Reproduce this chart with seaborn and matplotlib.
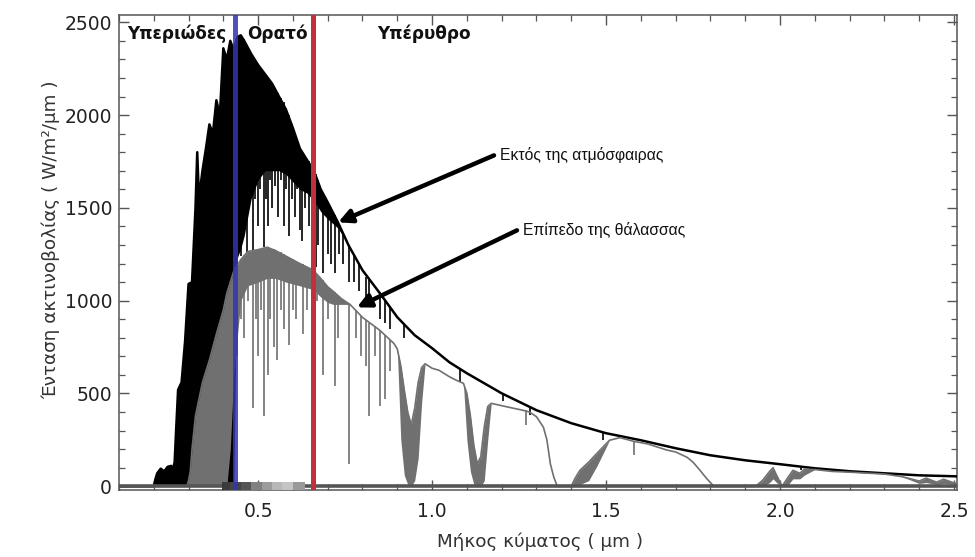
import matplotlib
matplotlib.use("Agg")
import matplotlib.pyplot as plt
from matplotlib.ticker import MultipleLocator
import seaborn as sns

# Solar spectral irradiance outside the atmosphere (black band):
# wavelength (um), upper envelope and lower envelope (W/m^2/um)
toa_wl = [0.10, 0.20, 0.205, 0.21, 0.22, 0.23, 0.24, 0.25, 0.255, 0.26, 0.265, 0.27,
          0.28, 0.29, 0.30, 0.31, 0.32, 0.325, 0.33, 0.34, 0.35, 0.36, 0.37, 0.38,
          0.39, 0.40, 0.41, 0.42, 0.43, 0.44, 0.45, 0.46, 0.48, 0.50, 0.52, 0.54,
          0.56, 0.58, 0.60, 0.62, 0.64, 0.66, 0.68, 0.70, 0.73, 0.76, 0.80, 0.85,
          0.90, 0.95, 1.00, 1.05, 1.10, 1.15, 1.20, 1.30, 1.40, 1.50, 1.60, 1.70,
          1.80, 1.90, 2.00, 2.10, 2.20, 2.30, 2.40, 2.50, 2.51]
toa_upper = [0, 0, 40, 70, 95, 80, 105, 110, 90, 130, 330, 520,
             560, 780, 1090, 1100, 1500, 1800, 1550, 1700, 1820, 1950, 1900, 2080,
             2000, 2360, 2300, 2400, 2350, 2420, 2430, 2400, 2330, 2270, 2220, 2170,
             2100, 2030, 1930, 1820, 1760, 1700, 1600, 1530, 1420, 1298, 1164, 1040,
             911, 814, 744, 668, 609, 555, 501, 410, 340, 286, 248, 205,
             167, 140, 119, 97, 81, 70, 59, 54, 53]
toa_lower = [0, 0, 0, 0, 0, 0, 0, 0, 0, 0, 0, 0,
             0, 0, 0, 0, 0, 0, 0, 0, 0, 0, 0, 0,
             0, 0, 0, 0, 0, 1230, 1280, 1350, 1550, 1650, 1700, 1700,
             1700, 1680, 1640, 1600, 1580, 1540, 1480, 1440, 1390, 1298, 1164, 1040,
             911, 814, 744, 668, 609, 555, 501, 410, 340, 286, 248, 205,
             167, 140, 119, 97, 81, 70, 59, 54, 53]

# Absorption lines in the extraterrestrial spectrum: wavelength, bottom, top
toa_line_wl = [0.452, 0.458, 0.468, 0.475, 0.486, 0.492, 0.500, 0.506, 0.517, 0.523,
               0.527, 0.534, 0.540, 0.548, 0.557, 0.565, 0.573, 0.581, 0.589, 0.596,
               0.605, 0.613, 0.620, 0.627, 0.636, 0.645, 0.656, 0.665, 0.672, 0.687,
               0.700, 0.710, 0.720, 0.733, 0.745, 0.760, 0.775, 0.790, 0.810, 0.820,
               0.850, 0.866, 0.880, 0.920, 1.080, 1.205, 1.280, 1.490, 2.060]
toa_line_floor = [1240, 1400, 1260, 1500, 1270, 1550, 1400, 1600, 1290, 1550,
                  1400, 1650, 1500, 1620, 1450, 1650, 1400, 1600, 1350, 1550,
                  1450, 1600, 1380, 1320, 1500, 1400, 1200, 1180, 1300, 1150,
                  1250, 1200, 1150, 1250, 1200, 1100, 1100, 1050, 1000, 980,
                  900, 880, 850, 800, 560, 460, 385, 250, 88]
toa_line_top = [2430, 2410, 2370, 2345, 2320, 2300, 2270, 2255, 2230, 2215,
                2200, 2185, 2160, 2140, 2120, 2090, 2070, 2040, 2000, 1950,
                1900, 1860, 1820, 1800, 1770, 1750, 1720, 1680, 1650, 1580,
                1530, 1490, 1460, 1410, 1360, 1300, 1240, 1190, 1130, 1110,
                1040, 1000, 970, 870, 630, 500, 420, 290, 108]

# Solar spectral irradiance at sea level (grey band)
sea_wl = [0.10, 0.295, 0.30, 0.305, 0.31, 0.32, 0.33, 0.34, 0.36, 0.38,
          0.40, 0.41, 0.42, 0.43, 0.45, 0.47, 0.50, 0.526, 0.55, 0.58,
          0.62, 0.658, 0.68, 0.70, 0.716, 0.74, 0.764, 0.80, 0.85, 0.89,
          0.90, 0.91, 0.92, 0.93, 0.94, 0.95, 0.96, 0.97, 0.98, 1.00,
          1.02, 1.05, 1.07, 1.09, 1.10, 1.11, 1.12, 1.13, 1.14, 1.15,
          1.16, 1.17, 1.22, 1.26, 1.28, 1.30, 1.32, 1.33, 1.34, 1.35,
          1.36, 1.40, 1.41, 1.425, 1.45, 1.474, 1.51, 1.54, 1.58, 1.62,
          1.675, 1.70, 1.733, 1.75, 1.77, 1.79, 1.81, 1.93, 1.95, 1.97,
          1.98, 1.99, 2.006, 2.02, 2.037, 2.057, 2.07, 2.10, 2.15, 2.20,
          2.30, 2.35, 2.38, 2.40, 2.42, 2.45, 2.47, 2.50, 2.51]
sea_upper = [0, 0, 30, 80, 200, 380, 470, 560, 680, 820,
             950, 1040, 1100, 1160, 1220, 1265, 1275, 1288, 1270, 1240,
             1200, 1165, 1120, 1075, 1050, 1010, 980, 910, 840, 770,
             740, 650, 520, 400, 330, 420, 560, 640, 660, 636,
             625, 590, 571, 555, 500, 380, 220, 120, 160, 320,
             430, 447, 426, 410, 400, 375, 318, 250, 120, 48,
             0, 0, 40, 86, 130, 178, 248, 262, 242, 228,
             195, 185, 156, 130, 86, 40, 0, 0, 32, 80,
             100, 60, 0, 40, 86, 70, 92, 90, 80, 76,
             66, 52, 38, 28, 44, 22, 38, 18, 15]
sea_lower = [0, 0, 0, 0, 0, 0, 0, 0, 0, 0,
             0, 0, 200, 600, 1000, 1080, 1100, 1120, 1120, 1100,
             1080, 1060, 1020, 990, 980, 980, 980, 910, 840, 770,
             740, 250, 60, 10, 0, 30, 150, 450, 660, 636,
             625, 590, 571, 555, 250, 80, 10, 0, 0, 30,
             250, 447, 426, 410, 400, 375, 318, 250, 120, 48,
             0, 0, 0, 10, 30, 110, 248, 262, 242, 228,
             195, 185, 156, 130, 86, 40, 0, 0, 0, 20,
             40, 20, 0, 0, 40, 40, 60, 90, 80, 76,
             66, 52, 30, 15, 20, 10, 15, 10, 10]

# Atmospheric absorption lines at sea level: wavelength, bottom, top
sea_line_wl = [0.440, 0.452, 0.460, 0.470, 0.486, 0.495, 0.500, 0.508, 0.518, 0.527,
               0.535, 0.545, 0.555, 0.565, 0.575, 0.589, 0.600, 0.610, 0.628, 0.640,
               0.656, 0.670, 0.687, 0.700, 0.720, 0.730, 0.762, 0.780, 0.795, 0.810,
               0.820, 0.835, 0.850, 0.866, 0.880, 1.270, 1.580]
sea_line_floor = [700, 900, 800, 1000, 420, 900, 700, 950, 380, 600,
                  900, 750, 680, 950, 850, 760, 950, 900, 820, 950,
                  900, 1000, 600, 900, 540, 800, 120, 800, 700, 650,
                  380, 700, 430, 470, 620, 330, 170]
sea_line_top = [1200, 1225, 1245, 1265, 1268, 1272, 1275, 1280, 1283, 1288,
                1282, 1276, 1270, 1260, 1250, 1235, 1225, 1215, 1195, 1180,
                1165, 1140, 1110, 1075, 1045, 1025, 980, 950, 920, 895,
                880, 865, 840, 815, 790, 410, 242]

# Greyscale rendering of the visible band along the wavelength axis
vis_edges = [0.397, 0.420, 0.450, 0.480, 0.510, 0.540, 0.570, 0.600, 0.635]
vis_greys = ["#3a3a3a", "#444444", "#555555", "#808080", "#9c9c9c", "#b8b8b8", "#c4c4c4", "#9a9a9a"]

# Band boundaries and labels
uv_limit = 0.434
ir_limit = 0.658
band_labels = ["Υπεριώδες", "Ορατό", "Υπέρυθρο"]
band_label_x = [0.125, 0.467, 0.842]

x_ticks = [0.5, 1.0, 1.5, 2.0, 2.5]
y_ticks = [0, 500, 1000, 1500, 2000, 2500]

sns.set_theme(style="ticks")
plt.rcParams["font.family"] = ["DejaVu Sans"]
plt.rcParams.update({
    "xtick.direction": "in", "ytick.direction": "in",
    "xtick.top": True, "ytick.right": True,
    "axes.edgecolor": "#555555", "axes.linewidth": 1.1,
    "xtick.color": "#555555", "ytick.color": "#555555",
    "xtick.labelcolor": "#222222", "ytick.labelcolor": "#222222",
})

fig = plt.figure(figsize=(9.75, 5.57), dpi=100)
ax = fig.add_axes([0.122, 0.1203, 0.860, 0.853])

# Extraterrestrial spectrum
ax.fill_between(toa_wl, toa_lower, toa_upper, color="black", lw=0, zorder=2)
sns.lineplot(x=toa_wl, y=toa_upper, ax=ax, color="black", lw=1.8,
             estimator=None, sort=False, zorder=3)
ax.vlines(toa_line_wl, toa_line_floor, toa_line_top, color="black", lw=1.2, zorder=3)

# Sea-level spectrum
ax.fill_between(sea_wl, sea_lower, sea_upper, color="#707070", lw=0, zorder=4)
sns.lineplot(x=sea_wl, y=sea_upper, ax=ax, color="#707070", lw=1.2,
             estimator=None, sort=False, zorder=5)
ax.vlines(sea_line_wl, sea_line_floor, sea_line_top, color="#707070", lw=1.2, zorder=5)

# Zero baseline and visible-band strip
ax.axhline(0, color="#555555", lw=2.6, zorder=6)
for i, c in enumerate(vis_greys):
    ax.broken_barh([(vis_edges[i], vis_edges[i + 1] - vis_edges[i])], (-22, 44),
                   facecolors=c, edgecolor="none", zorder=7)

# UV / visible / IR boundaries
ax.axvline(uv_limit, color="#3434b0", lw=3.6, alpha=0.85, zorder=8)
ax.axvline(ir_limit, color="#c32f3f", lw=3.6, zorder=8)

for lab, xp in zip(band_labels, band_label_x):
    ax.text(xp, 2440, lab, fontsize=12.2, fontweight="bold", color="#111111",
            ha="left", va="center", zorder=9)

# Curve annotations
ax.annotate("", xy=(0.730, 1422), xytext=(1.178, 1783),
            arrowprops=dict(arrowstyle="-|>", lw=3.2, color="black", mutation_scale=20,
                            shrinkA=0, shrinkB=0), zorder=9)
ax.annotate("", xy=(0.784, 964), xytext=(1.244, 1379),
            arrowprops=dict(arrowstyle="-|>", lw=3.2, color="black", mutation_scale=20,
                            shrinkA=0, shrinkB=0), zorder=9)
ax.text(1.195, 1783, "Εκτός της ατμόσφαιρας", fontsize=11.3,
        family=["Liberation Sans Narrow", "Liberation Sans", "DejaVu Sans"],
        ha="left", va="center", color="#111111")
ax.text(1.262, 1379, "Επίπεδο της θάλασσας", fontsize=11.3,
        family=["Liberation Sans Narrow", "Liberation Sans", "DejaVu Sans"],
        ha="left", va="center", color="#111111")

ax.set_xlim(0.1, 2.51)
ax.set_ylim(-20, 2540)
ax.set_xticks(x_ticks)
ax.set_xticklabels([f"{v:.1f}" for v in x_ticks])
ax.set_yticks(y_ticks)
ax.set_yticklabels([str(v) for v in y_ticks])
ax.xaxis.set_minor_locator(MultipleLocator(0.1))
ax.yaxis.set_minor_locator(MultipleLocator(100))
ax.tick_params(which="major", length=7, width=1.0, labelsize=13.5)
ax.tick_params(axis="x", which="major", pad=9)
ax.tick_params(axis="y", which="major", pad=5)
ax.tick_params(which="minor", length=4, width=0.9)
ax.set_xlabel("Μήκος κύματος ( μm )", fontsize=13.2, color="#333333")
ax.set_ylabel("Ένταση ακτινοβολίας ( W/m²/μm )", fontsize=13.2, color="#333333")
ax.xaxis.set_label_coords(0.502, -0.09)
ax.yaxis.set_label_coords(-0.070, 0.526)

fig.savefig("out.png", dpi=100, facecolor="white")
